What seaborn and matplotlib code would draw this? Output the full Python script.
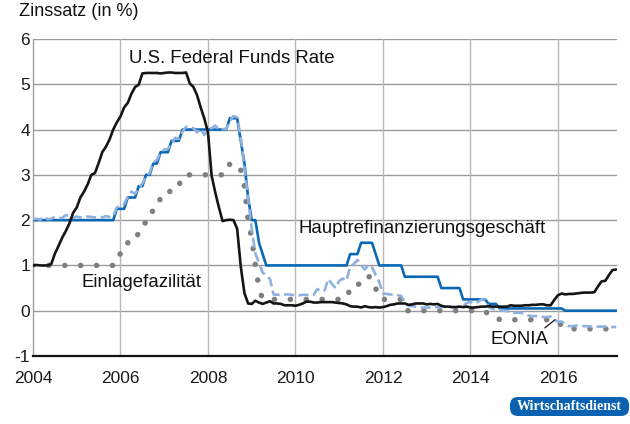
import numpy as np
import pandas as pd
import matplotlib
matplotlib.use("Agg")
import matplotlib.pyplot as plt
from matplotlib.patches import FancyBboxPatch
from matplotlib.transforms import IdentityTransform
import seaborn as sns

# Monthly data, Jan 2004 - May 2017 (one row per year)
fed_funds = [
    1.00, 1.01, 1.00, 1.00, 1.00, 1.03, 1.26, 1.43, 1.61, 1.76, 1.93, 2.16,
    2.28, 2.50, 2.63, 2.79, 3.00, 3.04, 3.26, 3.50, 3.62, 3.78, 4.00, 4.16,
    4.29, 4.49, 4.59, 4.79, 4.94, 4.99, 5.24, 5.25, 5.25, 5.25, 5.25, 5.24,
    5.25, 5.26, 5.26, 5.25, 5.25, 5.25, 5.26, 5.02, 4.94, 4.76, 4.49, 4.24,
    3.94, 2.98, 2.61, 2.28, 1.98, 2.00, 2.01, 2.00, 1.81, 0.97, 0.39, 0.16,
    0.15, 0.22, 0.18, 0.15, 0.18, 0.21, 0.16, 0.16, 0.15, 0.12, 0.12, 0.12,
    0.11, 0.13, 0.16, 0.20, 0.20, 0.18, 0.18, 0.19, 0.19, 0.19, 0.19, 0.18,
    0.17, 0.16, 0.14, 0.10, 0.09, 0.09, 0.07, 0.10, 0.08, 0.07, 0.08, 0.07,
    0.08, 0.10, 0.13, 0.14, 0.16, 0.16, 0.16, 0.13, 0.14, 0.16, 0.16, 0.16,
    0.14, 0.15, 0.14, 0.15, 0.11, 0.09, 0.09, 0.08, 0.08, 0.09, 0.08, 0.09,
    0.07, 0.07, 0.08, 0.09, 0.09, 0.10, 0.09, 0.09, 0.09, 0.09, 0.09, 0.12,
    0.11, 0.11, 0.11, 0.12, 0.12, 0.13, 0.13, 0.14, 0.14, 0.12, 0.12, 0.24,
    0.34, 0.38, 0.36, 0.37, 0.37, 0.38, 0.39, 0.40, 0.40, 0.40, 0.41, 0.54,
    0.65, 0.66, 0.79, 0.90, 0.91,
]

main_refi = [
    2.00, 2.00, 2.00, 2.00, 2.00, 2.00, 2.00, 2.00, 2.00, 2.00, 2.00, 2.00,
    2.00, 2.00, 2.00, 2.00, 2.00, 2.00, 2.00, 2.00, 2.00, 2.00, 2.00, 2.25,
    2.25, 2.25, 2.50, 2.50, 2.50, 2.75, 2.75, 3.00, 3.00, 3.25, 3.25, 3.50,
    3.50, 3.50, 3.75, 3.75, 3.75, 4.00, 4.00, 4.00, 4.00, 4.00, 4.00, 4.00,
    4.00, 4.00, 4.00, 4.00, 4.00, 4.00, 4.25, 4.25, 4.25, 3.75, 3.25, 2.50,
    2.00, 2.00, 1.50, 1.25, 1.00, 1.00, 1.00, 1.00, 1.00, 1.00, 1.00, 1.00,
    1.00, 1.00, 1.00, 1.00, 1.00, 1.00, 1.00, 1.00, 1.00, 1.00, 1.00, 1.00,
    1.00, 1.00, 1.00, 1.25, 1.25, 1.25, 1.50, 1.50, 1.50, 1.50, 1.25, 1.00,
    1.00, 1.00, 1.00, 1.00, 1.00, 1.00, 0.75, 0.75, 0.75, 0.75, 0.75, 0.75,
    0.75, 0.75, 0.75, 0.75, 0.50, 0.50, 0.50, 0.50, 0.50, 0.50, 0.25, 0.25,
    0.25, 0.25, 0.25, 0.25, 0.25, 0.15, 0.15, 0.15, 0.05, 0.05, 0.05, 0.05,
    0.05, 0.05, 0.05, 0.05, 0.05, 0.05, 0.05, 0.05, 0.05, 0.05, 0.05, 0.05,
    0.05, 0.05, 0.00, 0.00, 0.00, 0.00, 0.00, 0.00, 0.00, 0.00, 0.00, 0.00,
    0.00, 0.00, 0.00, 0.00, 0.00,
]

deposit = [
    1.00, 1.00, 1.00, 1.00, 1.00, 1.00, 1.00, 1.00, 1.00, 1.00, 1.00, 1.00,
    1.00, 1.00, 1.00, 1.00, 1.00, 1.00, 1.00, 1.00, 1.00, 1.00, 1.00, 1.25,
    1.25, 1.25, 1.50, 1.50, 1.50, 1.75, 1.75, 2.00, 2.00, 2.25, 2.25, 2.50,
    2.50, 2.50, 2.75, 2.75, 2.75, 3.00, 3.00, 3.00, 3.00, 3.00, 3.00, 3.00,
    3.00, 3.00, 3.00, 3.00, 3.00, 3.00, 3.25, 3.25, 3.25, 3.10, 2.75, 2.00,
    1.60, 1.00, 0.50, 0.25, 0.25, 0.25, 0.25, 0.25, 0.25, 0.25, 0.25, 0.25,
    0.25, 0.25, 0.25, 0.25, 0.25, 0.25, 0.25, 0.25, 0.25, 0.25, 0.25, 0.25,
    0.25, 0.25, 0.25, 0.50, 0.50, 0.50, 0.75, 0.75, 0.75, 0.75, 0.50, 0.25,
    0.25, 0.25, 0.25, 0.25, 0.25, 0.25, 0.00, 0.00, 0.00, 0.00, 0.00, 0.00,
    0.00, 0.00, 0.00, 0.00, 0.00, 0.00, 0.00, 0.00, 0.00, 0.00, 0.00, 0.00,
    0.00, 0.00, 0.00, 0.00, 0.00, -0.10, -0.10, -0.10, -0.20, -0.20, -0.20, -0.20,
    -0.20, -0.20, -0.20, -0.20, -0.20, -0.20, -0.20, -0.20, -0.20, -0.20, -0.20, -0.30,
    -0.30, -0.30, -0.40, -0.40, -0.40, -0.40, -0.40, -0.40, -0.40, -0.40, -0.40, -0.40,
    -0.40, -0.40, -0.40, -0.40, -0.40,
]

eonia = [
    2.02, 2.03, 2.01, 2.08, 2.02, 2.03, 2.07, 2.04, 2.05, 2.11, 2.09, 2.05,
    2.08, 2.06, 2.06, 2.08, 2.07, 2.06, 2.07, 2.06, 2.09, 2.07, 2.09, 2.28,
    2.33, 2.35, 2.52, 2.63, 2.58, 2.70, 2.81, 2.97, 3.04, 3.28, 3.33, 3.50,
    3.56, 3.57, 3.69, 3.82, 3.79, 3.96, 4.06, 4.05, 4.03, 3.94, 4.02, 3.88,
    4.02, 4.03, 4.09, 3.99, 4.01, 4.01, 4.19, 4.30, 4.27, 3.82, 3.15, 2.49,
    1.81, 1.26, 1.06, 0.84, 0.78, 0.70, 0.36, 0.35, 0.36, 0.36, 0.36, 0.35,
    0.34, 0.34, 0.35, 0.35, 0.34, 0.35, 0.48, 0.43, 0.45, 0.70, 0.59, 0.50,
    0.66, 0.71, 0.66, 0.97, 1.03, 1.12, 1.01, 0.91, 1.01, 0.96, 0.79, 0.63,
    0.38, 0.37, 0.36, 0.35, 0.34, 0.33, 0.18, 0.11, 0.10, 0.09, 0.08, 0.07,
    0.07, 0.07, 0.07, 0.08, 0.08, 0.09, 0.09, 0.08, 0.08, 0.09, 0.10, 0.17,
    0.20, 0.16, 0.19, 0.25, 0.25, 0.08, 0.04, 0.02, 0.01, 0.00, -0.01, -0.03,
    -0.05, -0.04, -0.05, -0.07, -0.11, -0.12, -0.12, -0.12, -0.14, -0.14, -0.13, -0.20,
    -0.24, -0.24, -0.29, -0.34, -0.34, -0.33, -0.33, -0.34, -0.34, -0.35, -0.35, -0.35,
    -0.35, -0.35, -0.35, -0.36, -0.36,
]

year_ticks = [2004, 2006, 2008, 2010, 2012, 2014, 2016]
y_ticks = [-1, 0, 1, 2, 3, 4, 5, 6]

months = pd.date_range("2004-01-01", "2017-05-01", freq="MS")
t = months.year + (months.month - 1) / 12.0
df = pd.DataFrame({"t": t, "fed": fed_funds, "mro": main_refi,
                   "dep": deposit, "eonia": eonia})

sns.set_theme(style="white")
plt.rcParams["font.family"] = ["Liberation Sans", "DejaVu Sans"]

fig = plt.figure(figsize=(6.3, 4.24), dpi=100)
ax = fig.add_axes([33 / 630, 1 - 356 / 424, (617 - 33) / 630, (356 - 39) / 424])

BLACK = "#151515"
BLUE = "#0a68b6"
LIGHT = "#8fb1e0"
GREY = "#7f7f7f"

sns.lineplot(data=df, x="t", y="dep", ax=ax, color=GREY, linewidth=4.0,
             linestyle=(0, (0.01, 2.85)), dash_capstyle="round", zorder=2)
sns.lineplot(data=df, x="t", y="mro", ax=ax, color=BLUE, linewidth=1.9, zorder=3)
sns.lineplot(data=df, x="t", y="eonia", ax=ax, color=LIGHT, linewidth=1.9,
             linestyle=(0, (3.8, 1.7)), zorder=4)
sns.lineplot(data=df, x="t", y="fed", ax=ax, color=BLACK, linewidth=1.9, zorder=5)

ax.set_xlim(2004, 2017.35)
ax.set_ylim(-1, 6)
ax.set_xticks(year_ticks)
ax.set_xticklabels([str(y) for y in year_ticks])
ax.set_yticks(y_ticks)
ax.set_yticklabels([str(v) for v in y_ticks])
ax.set_xlabel("")
ax.set_ylabel("")
ax.tick_params(axis="both", length=0, labelsize=12.5, colors="#1a1a1a")
ax.tick_params(axis="x", pad=11)
ax.tick_params(axis="y", pad=2)

ax.grid(False)
for v in y_ticks[1:]:
    ax.axhline(v, color="#9a9a9a", linewidth=1.0, zorder=1)
for v in year_ticks[1:]:
    ax.axvline(v, color="#b8b8b8", linewidth=1.0, zorder=1)

for s in ["top", "right"]:
    ax.spines[s].set_visible(False)
ax.spines["left"].set_color("#a0a0a0")
ax.spines["left"].set_linewidth(1.0)
ax.spines["bottom"].set_color("#111111")
ax.spines["bottom"].set_linewidth(1.6)
ax.spines["bottom"].set_zorder(6)

fs = 13.4
ax.text(2006.2, 5.56, "U.S. Federal Funds Rate", fontsize=fs, color="#111", va="center", ha="left")
ax.text(2010.08, 1.82, "Hauptrefinanzierungsgeschäft", fontsize=fs, color="#111", va="center", ha="left")
ax.text(2005.1, 0.63, "Einlagefazilität", fontsize=fs, color="#111", va="center", ha="left")
ax.text(2014.45, -0.64, "EONIA", fontsize=fs, color="#111", va="center", ha="left")
ax.plot([2015.70, 2015.93], [-0.38, -0.20], color="#111", linewidth=0.9, zorder=6)

fig.text(19 / 630, 1 - 12 / 424, "Zinssatz (in %)", fontsize=13, color="#111",
         va="center", ha="left")

# Publisher badge (pixel coordinates, origin bottom-left)
badge = FancyBboxPatch((510, 424 - 416), 119, 19,
                       boxstyle="round,pad=0,rounding_size=8",
                       transform=IdentityTransform(), fc="#0a62b0", ec="none")
fig.patches.append(badge)
fig.text(569.5 / 630, 1 - 406.5 / 424, "Wirtschaftsdienst", fontsize=10, fontweight="bold",
         family=["Liberation Serif", "DejaVu Serif"], color="white",
         ha="center", va="center")

fig.savefig("out.png", dpi=100)
